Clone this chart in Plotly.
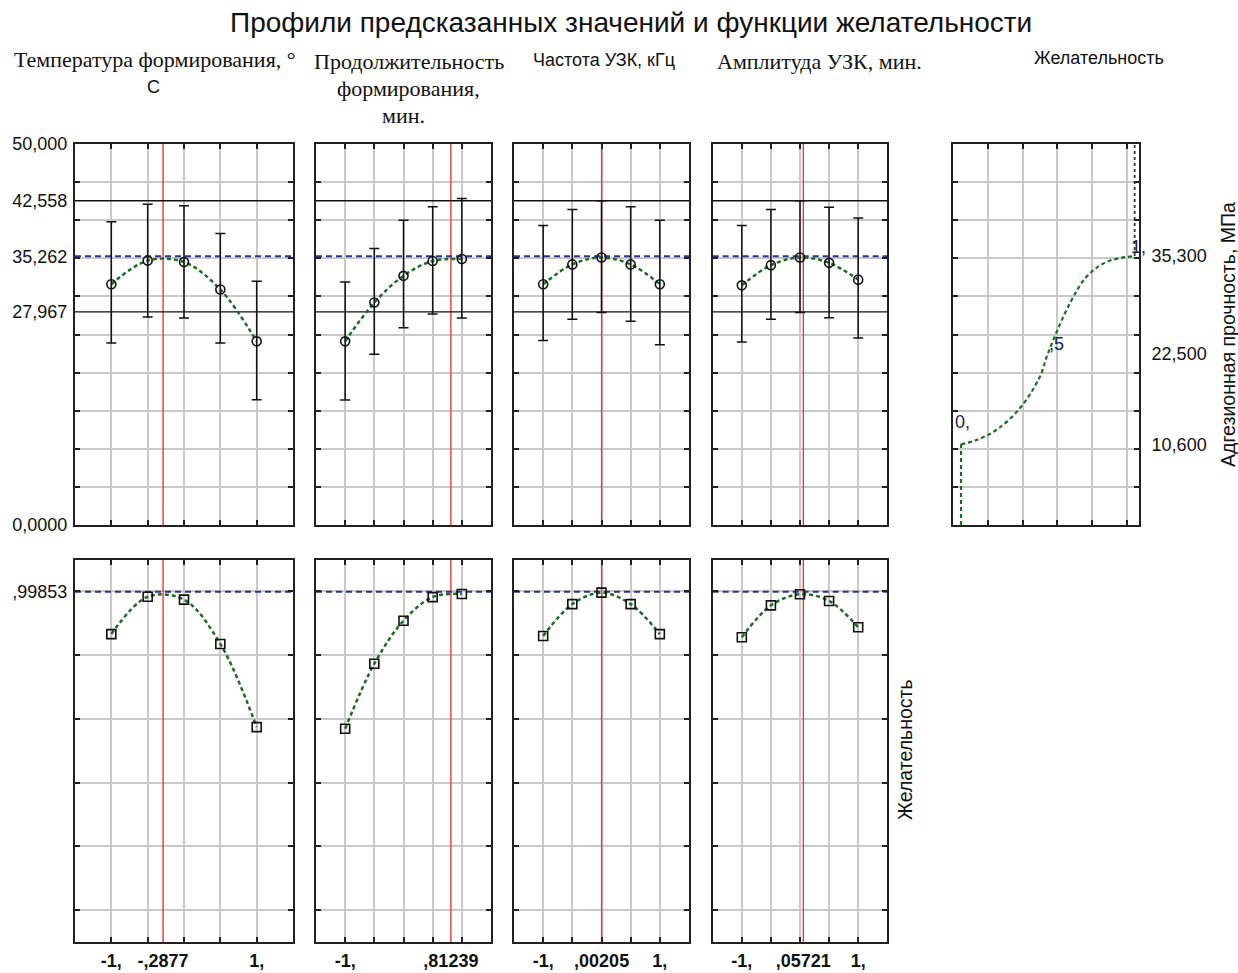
import plotly.graph_objects as go

# ---------------- data ----------------
levels = [-1, -0.5, 0, 0.5, 1]
current_settings = [-0.2877, 0.81239, 0.00205, 0.05721]
current_labels = ["-,2877", ",81239", ",00205", ",05721"]

pred_current = 35.262
ci_upper = 42.558
ci_lower = 27.967
desir_current = 0.99853

pred_temp = [31.6, 34.7, 34.5, 30.9, 24.1]
upper_temp = [39.8, 42.1, 41.9, 38.25, 32.0]
lower_temp = [23.9, 27.3, 27.15, 23.9, 16.45]

pred_dur = [24.1, 29.2, 32.7, 34.65, 34.9]
upper_dur = [31.9, 36.3, 40.0, 41.75, 42.85]
lower_dur = [16.4, 22.4, 25.9, 27.7, 27.15]

pred_freq = [31.6, 34.2, 35.1, 34.2, 31.6]
upper_freq = [39.3, 41.4, 42.55, 41.75, 40.0]
lower_freq = [24.2, 27.0, 27.9, 26.75, 23.65]

pred_amp = [31.45, 34.1, 35.1, 34.4, 32.2]
upper_amp = [39.3, 41.4, 42.55, 41.7, 40.3]
lower_amp = [24.0, 27.0, 27.9, 27.2, 24.55]

desir_temp = [0.866, 0.983, 0.974, 0.835, 0.574]
desir_dur = [0.569, 0.773, 0.908, 0.982, 0.992]
desir_freq = [0.860, 0.960, 0.996, 0.960, 0.866]
desir_amp = [0.856, 0.956, 0.991, 0.970, 0.8875]

# desirability function of the response
desir_spec_resp = [10.6, 22.5, 35.3]
desir_spec_d = [0, 0.5, 1]
desir_spec_text = ["0,", ",5", "1,"]
desir_spec_ticktext = ["10,600", "22,500", "35,300"]
curve_d = [0, 0.09, 0.205, 0.34, 0.455, 0.5, 0.627, 0.724, 0.84, 1.0]
curve_resp = [10.6, 11.15, 12.5, 15.35, 19.5, 22.5, 29.1, 32.6, 34.55, 35.3]

pred_series = [pred_temp, pred_dur, pred_freq, pred_amp]
upper_series = [upper_temp, upper_dur, upper_freq, upper_amp]
lower_series = [lower_temp, lower_dur, lower_freq, lower_amp]
desir_series = [desir_temp, desir_dur, desir_freq, desir_amp]

top_ticks = [0, ci_lower, pred_current, ci_upper, 50]
top_ticktext = ["0,0000", "27,967", "35,262", "42,558", "50,000"]
top_grid = [5, 10, 15, 20, 25, 30, 35, 40, 45]
bot_grid = [0, 0.2, 0.4, 0.6, 0.8, 1.0]

X_RANGE = [-1.5, 1.5]
TOP_RANGE = [0, 50]
BOT_RANGE = [-0.1, 1.1]
D_RANGE = [-0.048, 1.025]

# ---------------- styling ----------------
W, H = 1238, 973
SANS = "Liberation Sans, Arial, sans-serif"
SERIF = "Liberation Serif, Times New Roman, serif"
GREEN = "#1f6b24"
NAVY = "#2d3590"
RED = "#e23a3a"
GRID = "#c9c9c9"
FRAME = "#222222"

def fx(p):
    return p / W

def fy(p):
    return (H - p) / H

panel_px = [(75, 293), (316, 491), (514, 689), (712.7, 887.3)]
top_px = (144, 525)
bot_px = (559.5, 942)
des_px_x = (952.7, 1139)

fig = go.Figure()
layout = dict(width=W, height=H, margin=dict(l=0, r=0, t=0, b=0, autoexpand=False),
              paper_bgcolor="white", plot_bgcolor="white", showlegend=False)
annotations = []


def minor_cfg(vals):
    return dict(tickmode="array", tickvals=vals, ticks="inside", ticklen=5,
                tickcolor=FRAME, tickwidth=1.5, showgrid=True,
                gridcolor=GRID, gridwidth=1.5)


def axis_base(domain, anchor):
    return dict(domain=domain, anchor=anchor, showline=True, linecolor=FRAME,
                linewidth=2, mirror="allticks", zeroline=False, showgrid=False,
                ticks="", tickmode="array", fixedrange=True, automargin=False,
                tickfont=dict(family=SANS, size=18, color="#111"))


def line_trace(x, y, xa, ya, color, width, dash="solid"):
    fig.add_trace(go.Scatter(x=x, y=y, mode="lines", xaxis=xa, yaxis=ya,
                             line=dict(color=color, width=width, dash=dash),
                             hoverinfo="skip", cliponaxis=True))

for i in range(4):
    xd = [fx(panel_px[i][0]), fx(panel_px[i][1])]
    # ---- top panel (response) ----
    n = i + 1
    xa = "x" if n == 1 else f"x{n}"
    ya = "y" if n == 1 else f"y{n}"
    xkey = "xaxis" if n == 1 else f"xaxis{n}"
    ykey = "yaxis" if n == 1 else f"yaxis{n}"
    ax = axis_base(xd, ya)
    ax.update(range=X_RANGE, tickvals=[-1, current_settings[i], 1],
              ticktext=["", "", ""], showticklabels=False, minor=minor_cfg(levels))
    ay = axis_base([fy(top_px[1]), fy(top_px[0])], xa)
    ay.update(range=TOP_RANGE, tickvals=top_ticks, ticktext=top_ticktext,
              showticklabels=(i == 0), ticklabelstandoff=2, minor=minor_cfg(top_grid))
    layout[xkey] = ax
    layout[ykey] = ay

    line_trace([current_settings[i]] * 2, TOP_RANGE, xa, ya, RED, 1.4)
    for yv in (ci_upper, ci_lower):
        line_trace(X_RANGE, [yv, yv], xa, ya, "#111", 1.4)
    line_trace(X_RANGE, [pred_current] * 2, xa, ya, NAVY, 2, "6px,4px")

    fig.add_trace(go.Scatter(x=levels, y=pred_series[i], mode="lines", xaxis=xa, yaxis=ya,
                             line=dict(color=GREEN, width=2.5, dash="4px,3px", shape="spline"),
                             hoverinfo="skip"))
    err_plus = [u - p for u, p in zip(upper_series[i], pred_series[i])]
    err_minus = [p - l for l, p in zip(lower_series[i], pred_series[i])]
    fig.add_trace(go.Scatter(x=levels, y=pred_series[i], mode="markers", xaxis=xa, yaxis=ya,
                             marker=dict(symbol="circle-open", size=9, color="#111",
                                         line=dict(width=1.6, color="#111")),
                             error_y=dict(type="data", symmetric=False, array=err_plus,
                                          arrayminus=err_minus, color="#111",
                                          thickness=1.5, width=5)))

    # ---- bottom panel (desirability) ----
    m = i + 6
    xb = f"x{m}"
    yb = f"y{m}"
    bx = axis_base(xd, yb)
    if i == 1:
        tv = [-1, current_settings[i]]
        tt = ["<b>-1,</b>", f"<b>{current_labels[i]}</b>"]
    else:
        tv = [-1, current_settings[i], 1]
        tt = ["<b>-1,</b>", f"<b>{current_labels[i]}</b>", "<b>1,</b>"]
    bx.update(range=X_RANGE, tickvals=tv, ticktext=tt, showticklabels=True,
              ticklabelstandoff=1, minor=minor_cfg(levels))
    by = axis_base([fy(bot_px[1]), fy(bot_px[0])], xb)
    by.update(range=BOT_RANGE, tickvals=[desir_current], ticktext=[",99853"],
              showticklabels=(i == 0), ticklabelstandoff=2, minor=minor_cfg(bot_grid))
    layout[f"xaxis{m}"] = bx
    layout[f"yaxis{m}"] = by

    line_trace([current_settings[i]] * 2, BOT_RANGE, xb, yb, RED, 1.4)
    line_trace(X_RANGE, [desir_current] * 2, xb, yb, NAVY, 2, "6px,4px")
    fig.add_trace(go.Scatter(x=levels, y=desir_series[i], mode="lines", xaxis=xb, yaxis=yb,
                             line=dict(color=GREEN, width=2.5, dash="4px,3px", shape="spline"),
                             hoverinfo="skip"))
    fig.add_trace(go.Scatter(x=levels, y=desir_series[i], mode="markers", xaxis=xb, yaxis=yb,
                             marker=dict(symbol="square-open", size=9, color="#111",
                                         line=dict(width=1.6, color="#111"))))

# ---- desirability function panel ----
dx = axis_base([fx(des_px_x[0]), fx(des_px_x[1])], "y5")
dx.update(range=D_RANGE, tickvals=[0, 1], ticktext=["", ""], showticklabels=False,
          minor=minor_cfg([0.155, 0.355, 0.555, 0.755, 0.955]))
dy = axis_base([fy(top_px[1]), fy(top_px[0])], "x5")
dy.update(range=TOP_RANGE, side="right", tickvals=desir_spec_resp, ticktext=desir_spec_ticktext,
          showticklabels=True, ticklabelstandoff=7, minor=minor_cfg(top_grid))
layout["xaxis5"] = dx
layout["yaxis5"] = dy

line_trace([desir_spec_d[0]] * 2, [TOP_RANGE[0], desir_spec_resp[0]], "x5", "y5", GREEN, 2.2, "4px,3px")
line_trace([desir_spec_d[-1]] * 2, [desir_spec_resp[-1], TOP_RANGE[1]], "x5", "y5", "#333", 1.8, "3px,3px")
fig.add_trace(go.Scatter(x=curve_d, y=curve_resp, mode="lines", xaxis="x5", yaxis="y5",
                         line=dict(color=GREEN, width=2.2, dash="4px,3px", shape="spline"),
                         hoverinfo="skip"))
label_shift = [(1, 22), (9, 10), (4, 9)]
for d, r, t, (xs, ys) in zip(desir_spec_d, desir_spec_resp, desir_spec_text, label_shift):
    annotations.append(dict(x=d, y=r, xref="x5", yref="y5", text=t, showarrow=False,
                            xshift=xs, yshift=ys, font=dict(family=SANS, size=18, color="#1d2050")))

# ---- titles ----
def note(x, y, text, family, size, xanchor="center", angle=0):
    annotations.append(dict(x=fx(x), y=fy(y), xref="paper", yref="paper", text=text,
                            showarrow=False, xanchor=xanchor, yanchor="middle",
                            textangle=angle, font=dict(family=family, size=size, color="#111")))

note(631, 23, "Профили предсказанных значений и функции желательности", SANS, 28)
note(155, 60, "Температура формирования, °", SERIF, 22)
note(153, 87, "С", SANS, 18)
note(312, 61, "Продолжительность", SERIF, 22, xanchor="left")
note(408, 88, "формирования,", SERIF, 22)
note(403, 115, "мин.", SERIF, 22)
note(531, 60, "Частота УЗК, кГц", SANS, 18, xanchor="left")
note(715, 61, "Амплитуда УЗК, мин.", SERIF, 22, xanchor="left")
note(1099, 58, "Желательность", SANS, 18)
note(1228, 335, "Адгезионная прочность, МПа", SANS, 19.5, angle=-90)
note(905, 750, "Желательность", SANS, 19.5, angle=-90)

layout["annotations"] = annotations
fig.update_layout(**layout)
fig.write_html("out.html")
